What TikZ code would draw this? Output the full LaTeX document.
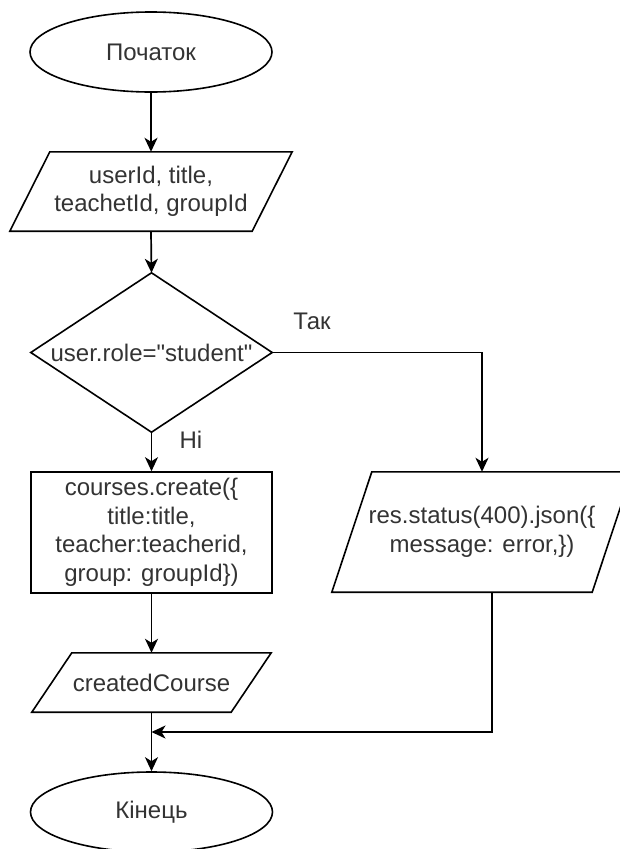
\documentclass[tikz,border=0pt]{standalone}
\usepackage{fontspec}
\setmainfont{Liberation Sans}[Ligatures=TeXOff]
\usetikzlibrary{shapes.geometric,arrows.meta,calc}

% outline of a slanted (input/output) block around an invisible frame node
\newcommand\slantedblock[2]{%
  \draw[shapeline] ($(#1.north west)+(#2/2,0)$) -- ($(#1.north east)+(#2/2,0)$)
    -- ($(#1.south east)+(-#2/2,0)$) -- ($(#1.south west)+(-#2/2,0)$) -- cycle;}

\begin{document}
\begin{tikzpicture}[x=1pt,y=-1pt,
  every node/.style={font=\fontsize{24}{28.5}\selectfont, text=black!80, align=center},
  term/.style={ellipse, draw=black, line width=1.6pt, minimum width=242pt, minimum height=80pt, inner sep=0pt},
  box/.style={rectangle, draw=black, line width=1.6pt, inner sep=0pt},
  slot/.style={rectangle, inner sep=0pt},
  shapeline/.style={draw=black, line width=1.6pt, line join=miter},
  flow/.style={draw=black, line width=1.7pt, -{Stealth[length=14pt,width=13pt,inset=4pt]}}
]
\useasboundingbox (0,0) rectangle (620,849);

% blocks
\node[term] (start) at (151,52) {Початок};
\node[slot, minimum width=242pt, minimum height=79pt] (input) at (151,191.5) {userId, title,\\teachetId, groupId};
\slantedblock{input}{40}
\node[slot, minimum width=241pt, minimum height=159pt] (dec) at (151.5,352.5) {user.role="student"};
\draw[shapeline] (dec.north) -- (dec.east) -- (dec.south) -- (dec.west) -- cycle;
\node[box, minimum width=241pt, minimum height=121pt] (create) at (151.5,532.5)
  {courses.create(\{\\title:title,\\teacher:teacherid,\\group: groupId\})};
\node[slot, minimum width=260pt, minimum height=120pt] (err) at (482,532)
  {res.status(400).json(\{\\message: error,\})};
\slantedblock{err}{40}
\node[slot, minimum width=199pt, minimum height=59pt] (out) at (151.5,682.5) {createdCourse};
\slantedblock{out}{40}
\node[term] (stop) at (151.5,812) {Кінець};

% branch labels
\node (yes) at (312,321) {Так};
\node (no) at (191,440) {Ні};

% connectors
\coordinate (join) at (151.5,732);
\coordinate (errout) at ($(err.south)+(10,0)$);
\draw[flow] (start.south) -- (input.north);
\draw[flow] (input.south) -- (dec.north);
\draw[flow] (dec.south) -- (create.north);
\draw[flow] (dec.east) -| (err.north);
\draw[flow] (create.south) -- (out.north);
\draw[flow] (out.south) -- (stop.north);
\draw[flow] (errout) |- (join);
\end{tikzpicture}
\end{document}
